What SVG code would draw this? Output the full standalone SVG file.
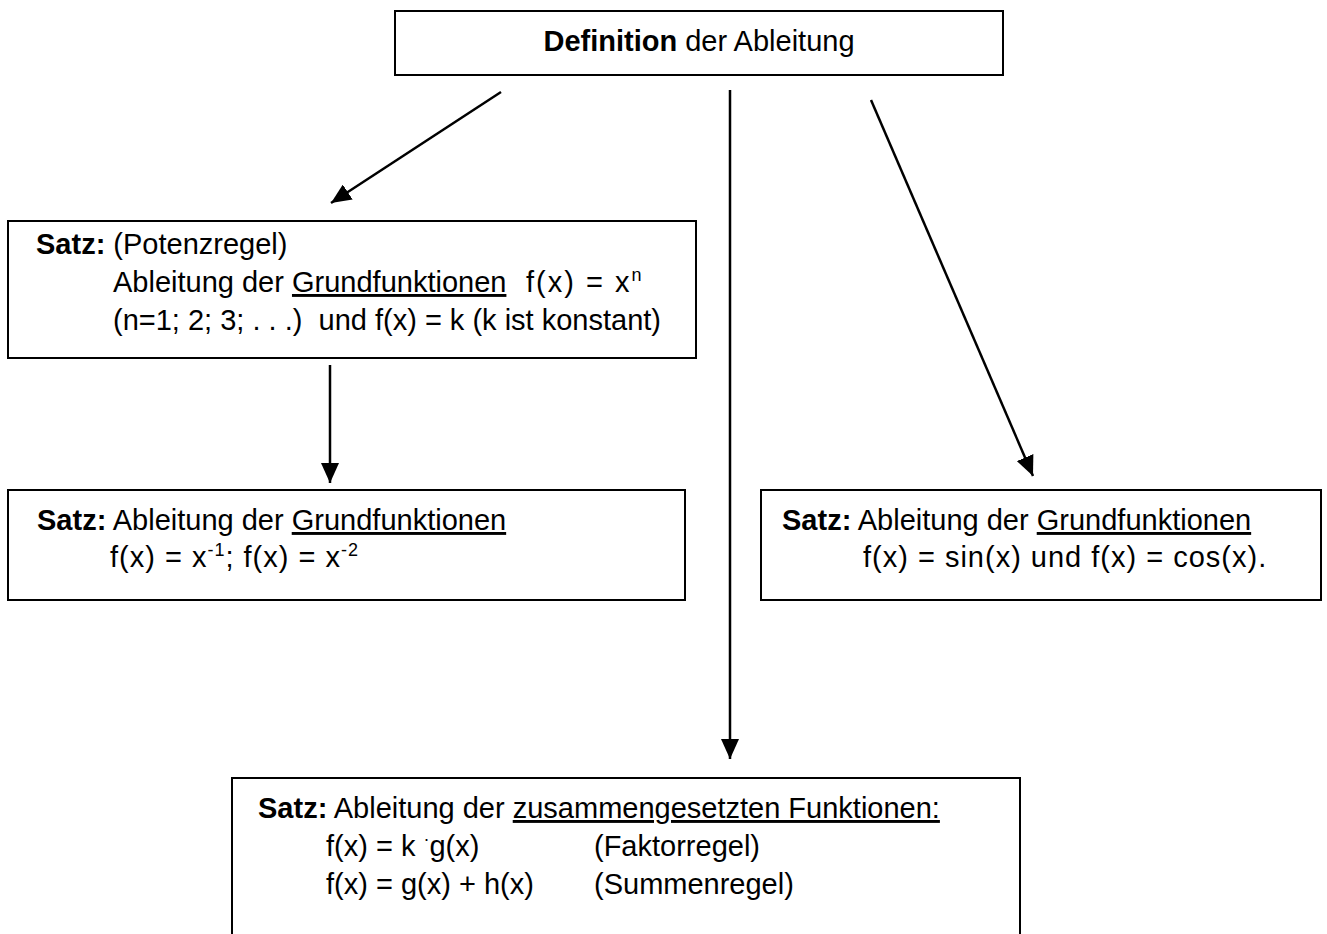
<svg xmlns="http://www.w3.org/2000/svg" width="1327" height="934" viewBox="0 0 1327 934">
<style>
.box{fill:#fff;stroke:#000;stroke-width:2}
.t{font-family:"Liberation Sans",Arial,sans-serif;font-size:29px;fill:#000;white-space:pre}
.f{letter-spacing:1px}
.b{font-weight:bold}
.u{text-decoration:underline}
.sup{font-size:18px}
.con{stroke:#000;stroke-width:2.5;fill:none;marker-end:url(#ah)}
</style>
<defs>
<marker id="ah" markerUnits="userSpaceOnUse" markerWidth="22" markerHeight="18" refX="20" refY="9" orient="auto">
<path d="M0,0 L20,9 L0,18 z" fill="#000"/>
</marker>
</defs>
<rect width="1327" height="934" fill="#fff"/>
<g id="connectors">
<line class="con" x1="501" y1="92" x2="331" y2="203"/>
<line class="con" x1="730" y1="90" x2="730" y2="759"/>
<line class="con" x1="871" y1="100" x2="1033" y2="476"/>
<line class="con" x1="330" y1="365" x2="330" y2="483"/>
</g>
<g id="n-definition">
<rect class="box" x="395" y="11" width="608" height="64"/>
<text class="t" x="699" y="51" text-anchor="middle"><tspan class="b">Definition</tspan> der Ableitung</text>
</g>
<g id="n-potenzregel">
<rect class="box" x="8" y="221" width="688" height="137"/>
<text class="t" x="36" y="254"><tspan class="b">Satz:</tspan> (Potenzregel)</text>
<text class="t" x="113" y="292">Ableitung der <tspan class="u">Grundfunktionen</tspan></text>
<text class="t" x="526" y="292" letter-spacing="2">f(x) = x<tspan class="sup" dy="-11">n</tspan></text>
<text class="t" x="113" y="330">(n=1; 2; 3; . . .)  und f(x) = k (k ist konstant)</text>
</g>
<g id="n-negativ">
<rect class="box" x="8" y="490" width="677" height="110"/>
<text class="t" x="37" y="530"><tspan class="b">Satz:</tspan> Ableitung der <tspan class="u">Grundfunktionen</tspan></text>
<text class="t f" x="110" y="567">f(x) = x<tspan class="sup" dy="-11">-1</tspan><tspan dy="11">; f(x) = x</tspan><tspan class="sup" dy="-11">-2</tspan></text>
</g>
<g id="n-trig">
<rect class="box" x="761" y="490" width="560" height="110"/>
<text class="t" x="782" y="530"><tspan class="b">Satz:</tspan> Ableitung der <tspan class="u">Grundfunktionen</tspan></text>
<text class="t f" x="863" y="567">f(x) = sin(x) und f(x) = cos(x).</text>
</g>
<g id="n-zusammengesetzt">
<rect class="box" x="232" y="778" width="788" height="170"/>
<text class="t" x="258" y="818"><tspan class="b">Satz:</tspan> Ableitung der <tspan class="u">zusammengesetzten Funktionen:</tspan></text>
<text class="t" x="326" y="856">f(x) = k <tspan class="sup" dy="-11">·</tspan><tspan dy="11">g(x)</tspan></text>
<text class="t" x="594" y="856">(Faktorregel)</text>
<text class="t" x="326" y="894">f(x) = g(x) + h(x)</text>
<text class="t" x="594" y="894">(Summenregel)</text>
</g>
</svg>
